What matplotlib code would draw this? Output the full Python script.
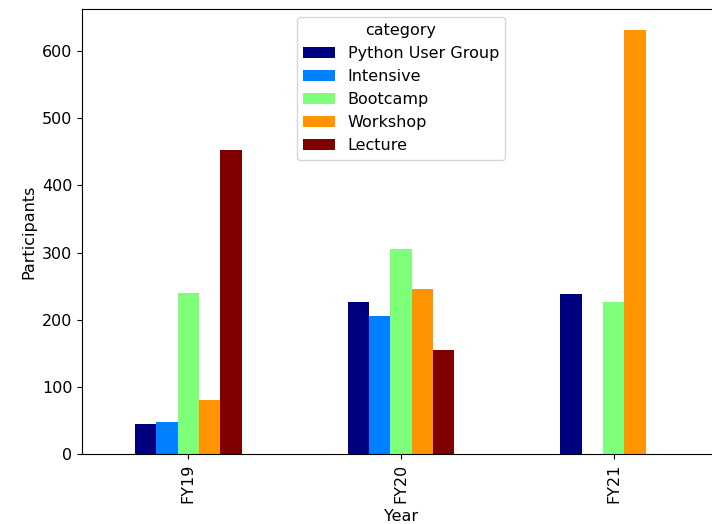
import numpy as np
import matplotlib.pyplot as plt

years = ['FY19', 'FY20', 'FY21']
categories = ['Python User Group', 'Intensive', 'Bootcamp', 'Workshop', 'Lecture']

python_user_group = [45, 227, 238]
intensive = [48, 205, np.nan]
bootcamp = [240, 305, 226]
workshop = [80, 246, 631]
lecture = [453, 155, np.nan]

series = [python_user_group, intensive, bootcamp, workshop, lecture]

plt.rcParams['font.size'] = 11.5

fig = plt.figure(figsize=(7.12, 5.24), dpi=100)
ax = fig.add_axes([0.1152, 0.1336, 0.896, 0.849])

cmap = plt.get_cmap('jet')
colors = cmap(np.linspace(0, 1, len(categories)))
x = np.arange(len(years))
width = 0.5 / len(categories)

for i, (name, vals) in enumerate(zip(categories, series)):
    offset = (i - (len(categories) - 1) / 2) * width
    ax.bar(x + offset, vals, width, color=colors[i], label=name)

ax.set_xlim(-0.5, len(years) - 0.5)
ax.set_xticks(x)
ax.set_xticklabels(years, rotation=90)
ax.set_xlabel('Year')
ax.set_ylabel('Participants')
ax.legend(title='category', loc='upper center')

fig.savefig('out.png', dpi=100)
